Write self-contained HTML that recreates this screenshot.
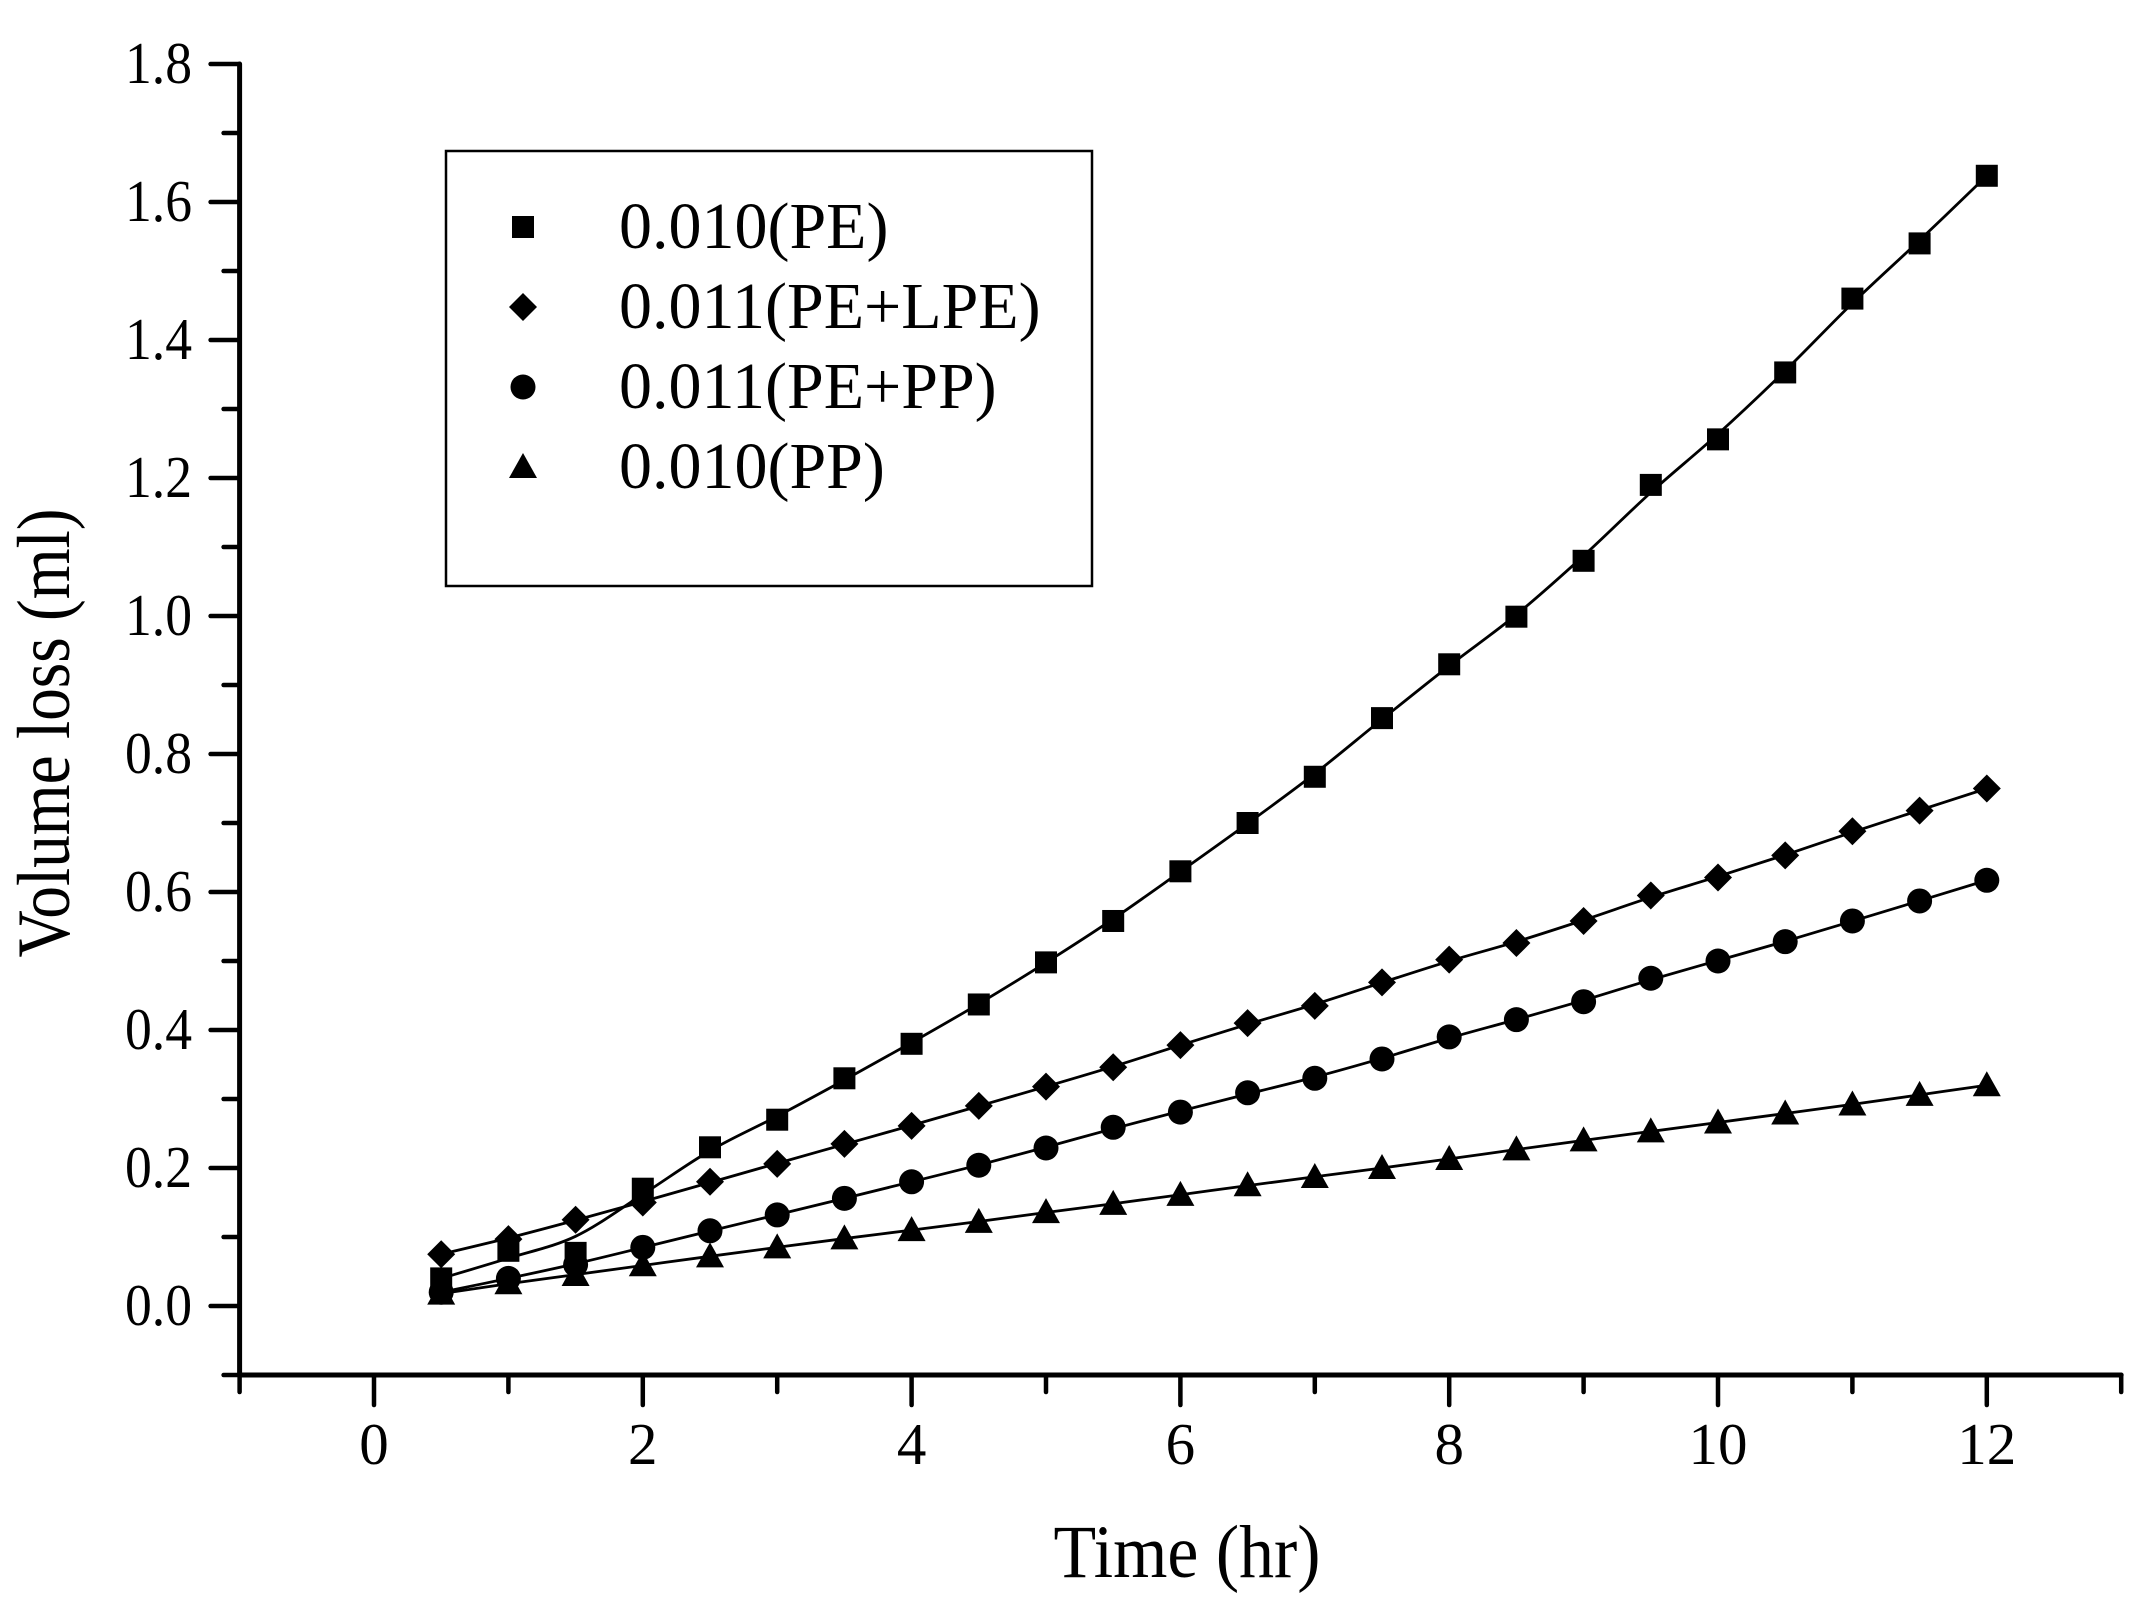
<!DOCTYPE html>
<html><head><meta charset="utf-8"><style>
html,body{margin:0;padding:0;background:#fff;}
svg{display:block;font-family:"Liberation Serif",serif;}
</style></head><body>
<svg id="chart" width="2139" height="1610" viewBox="0 0 2139 1610" xmlns="http://www.w3.org/2000/svg">
<rect x="0" y="0" width="2139" height="1610" fill="#fff"/>
<g id="axes"></g>
<g id="series"></g>
<g id="legend">
<rect x="446" y="151" width="646" height="435" fill="#fff" stroke="#000" stroke-width="2.5"/>
</g>
<text x="1187" y="1577" font-size="75" text-anchor="middle" textLength="267" lengthAdjust="spacingAndGlyphs">Time (hr)</text>
<text transform="translate(69,733) rotate(-90)" font-size="75" text-anchor="middle" textLength="449" lengthAdjust="spacingAndGlyphs">Volume loss (ml)</text>
</svg>
<script>
const times = [0.5,1,1.5,2,2.5,3,3.5,4,4.5,5,5.5,6,6.5,7,7.5,8,8.5,9,9.5,10,10.5,11,11.5,12];
const pe = [0.04,0.08,0.077,0.17,0.23,0.27,0.33,0.38,0.437,0.498,0.558,0.63,0.70,0.767,0.852,0.93,0.999,1.08,1.19,1.256,1.353,1.46,1.54,1.638];
const peLpe = [0.075,0.097,0.125,0.15,0.18,0.206,0.235,0.261,0.29,0.318,0.346,0.378,0.41,0.435,0.469,0.502,0.526,0.558,0.595,0.621,0.653,0.688,0.718,0.75];
const pePp = [0.02,0.04,0.06,0.085,0.109,0.132,0.156,0.18,0.204,0.229,0.259,0.281,0.309,0.33,0.358,0.39,0.415,0.441,0.475,0.5,0.528,0.558,0.587,0.617];
const pp = [0.018,0.033,0.045,0.059,0.072,0.085,0.098,0.11,0.122,0.136,0.148,0.161,0.175,0.187,0.2,0.213,0.227,0.24,0.253,0.266,0.279,0.292,0.306,0.32];
const xTicks = [0,2,4,6,8,10,12];
const yTicks = [0.0,0.2,0.4,0.6,0.8,1.0,1.2,1.4,1.6,1.8];
const yTickLabels = ["0.0","0.2","0.4","0.6","0.8","1.0","1.2","1.4","1.6","1.8"];
const seriesNames = ["0.010(PE)","0.011(PE+LPE)","0.011(PE+PP)","0.010(PP)"];

const NS="http://www.w3.org/2000/svg";
const X0=374, XU=134.4, Y0=1306, YU=690;
function sx(v){return X0+v*XU;}
function sy(v){return Y0-v*YU;}
function mk(tag,attrs,parent){const e=document.createElementNS(NS,tag);for(const k in attrs)e.setAttribute(k,attrs[k]);parent.appendChild(e);return e;}
const axes=document.getElementById('axes');
const axL=sx(-1), axR=sx(13), axB=sy(-0.1), axT=sy(1.8);
let l=mk('line',{x1:axL,y1:axB,x2:axR,y2:axB,stroke:'#000','stroke-width':5,'stroke-linecap':'round'},axes);


l=mk('line',{x1:axL,y1:axB,x2:axL,y2:axT,stroke:'#000','stroke-width':5,'stroke-linecap':'round'},axes);


for(let v=-1;v<=13;v++){
  const major=xTicks.includes(v);
  const t=mk('line',{x1:sx(v),y1:axB,x2:sx(v),y2:axB+(major?30:17),stroke:'#000','stroke-width':4.5,'stroke-linecap':'round'},axes);
  
  
}
xTicks.forEach(v=>{
  const t=mk('text',{x:sx(v),y:1464,'font-size':59,'text-anchor':'middle'},axes);
  t.textContent=String(v);
  
  
});
for(let i=-1;i<=18;i++){
  const v=i/10; const major=(i>=0 && i%2===0);
  const t=mk('line',{x1:axL,y1:sy(v),x2:axL-(major?29:16),y2:sy(v),stroke:'#000','stroke-width':4.5,'stroke-linecap':'round'},axes);
  
  
}
yTicks.forEach((v,i)=>{
  const t=mk('text',{x:192,y:sy(v)+19,'font-size':59,'text-anchor':'end',textLength:67,lengthAdjust:'spacingAndGlyphs'},axes);
  t.textContent=yTickLabels[i];
  
  
});
function marker(kind,cx,cy,parent){
  let e;
  if(kind==='square') e=mk('rect',{x:cx-11,y:cy-11,width:22,height:22,fill:'#000'},parent);
  else if(kind==='diamond') e=mk('polygon',{points:`${cx},${cy-14} ${cx+14},${cy} ${cx},${cy+14} ${cx-14},${cy}`,fill:'#000'},parent);
  else if(kind==='circle') e=mk('circle',{cx:cx,cy:cy,r:12.5,fill:'#000'},parent);
  else e=mk('polygon',{points:`${cx},${cy-14} ${cx+14},${cy+11} ${cx-14},${cy+11}`,fill:'#000'},parent);
  return e;
}
function smoothVals(v){
  return v.map((y,i)=>{
    if(i===0||i===v.length-1) return y;
    return (v[i-1]+2*y+v[i+1])/4;
  });
}
function smoothPath(pts){
  let d=`M${pts[0][0]},${pts[0][1]}`;
  for(let i=0;i<pts.length-1;i++){
    const p0=pts[Math.max(0,i-1)],p1=pts[i],p2=pts[i+1],p3=pts[Math.min(pts.length-1,i+2)];
    const c1=[p1[0]+(p2[0]-p0[0])/6,p1[1]+(p2[1]-p0[1])/6];
    const c2=[p2[0]-(p3[0]-p1[0])/6,p2[1]-(p3[1]-p1[1])/6];
    d+=` C${c1[0]},${c1[1]} ${c2[0]},${c2[1]} ${p2[0]},${p2[1]}`;
  }
  return d;
}
const seriesG=document.getElementById('series');
const allSeries=[[pe,'square','pe'],[peLpe,'diamond','pe-lpe'],[pePp,'circle','pe-pp'],[pp,'triangle','pp']];
allSeries.forEach(([vals,kind,id])=>{
  const g=mk('g',{},seriesG);
  
  
  const sm=smoothVals(vals);
  const lpts=times.map((t,i)=>[sx(t),sy(sm[i])]);
  const p=mk('path',{d:smoothPath(lpts),fill:'none',stroke:'#000','stroke-width':2.8},g);
  
  
  times.forEach((t,i)=>{
    const m=marker(kind,sx(t),sy(vals[i]),g);
    
    
  });
});
const legend=document.getElementById('legend');
const kinds=['square','diamond','circle','triangle'];
seriesNames.forEach((name,i)=>{
  const base=248+i*80;
  const m=marker(kinds[i],523,base-21,legend);
  
  
  const t=mk('text',{x:619,y:base,'font-size':66},legend);
  t.textContent=name;
  
  
});
</script>
</body></html>
